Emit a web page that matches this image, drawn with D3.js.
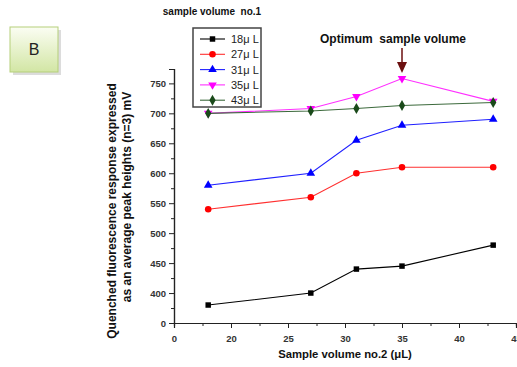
<!DOCTYPE html>
<html>
<head>
<meta charset="utf-8">
<script src="https://cdn.jsdelivr.net/npm/d3@7"></script>
<style>
  body { margin: 0; background: #fff; }
  text { font-family: "Liberation Sans", Arial, sans-serif; white-space: pre; }
</style>
</head>
<body>
<div id="chart"></div>
<script>
// sample volume no.2 (µL) on the x axis
const volumes = [18, 27, 31, 35, 43];
// one series per sample volume no.1
const seriesNames = ["18μ L", "27μ L", "31μ L", "35μ L", "43μ L"];
const s18 = [380, 400, 440, 445, 480];
const s27 = [540, 560, 600, 610, 610];
const s31 = [580, 600, 655, 680, 690];
const s35 = [700, 708, 728, 758, 720];
const s43 = [700, 704, 708, 713, 718];
const xTicks = [15, 20, 25, 30, 35, 40, 45];
const yTicks = [350, 400, 450, 500, 550, 600, 650, 700, 750];

const colors = ["#000000", "#ff0000", "#0000ff", "#ff00ff", "#1a4a1a"];
const lineColors = ["#000000", "#ff3030", "#2020ff", "#ff30ff", "#3c6a3c"];
const symbols = [d3.symbolSquare, d3.symbolCircle, d3.symbolTriangle, d3.symbolTriangle, d3.symbolDiamond];
const symSize = [30, 34, 32, 32, 34];
const symRotate = [0, 0, 0, 180, 0];

const series = [s18, s27, s31, s35, s43].map((vals, i) => ({
  name: seriesNames[i],
  values: vals.map((v, j) => ({x: volumes[j], y: v}))
}));

const W = 517, H = 367;
const svg = d3.select('#chart').append('svg')
  .attr('width', W).attr('height', H);

const x = d3.scaleLinear().domain([15, 45]).range([174, 516]);
const y = d3.scaleLinear().domain([350, 774]).range([323, 69]);

// "B" panel badge
const grad = svg.append('defs').append('linearGradient')
  .attr('id', 'bgrad').attr('x1', 0).attr('y1', 0).attr('x2', 0).attr('y2', 1);
grad.append('stop').attr('offset', '0%').attr('stop-color', '#fbfdf3');
grad.append('stop').attr('offset', '100%').attr('stop-color', '#d2e6a4');
svg.append('rect').attr('x', 13).attr('y', 30).attr('width', 48).attr('height', 45)
  .attr('fill', '#dcdcdc');
svg.append('rect').attr('x', 10).attr('y', 27).attr('width', 48).attr('height', 45)
  .attr('fill', 'url(#bgrad)').attr('stroke', '#b5cf7a').attr('stroke-width', 1);
svg.append('text').attr('x', 34).attr('y', 55).attr('text-anchor', 'middle')
  .style('font-size', '16px').attr('fill', '#222').text('B');

// titles
svg.append('text').attr('x', 212).attr('y', 15).attr('text-anchor', 'middle')
  .style('font-size', '10px').style('font-weight', 'bold').attr('fill', '#111')
  .text('sample volume  no.1');
svg.append('text').attr('x', 393).attr('y', 43).attr('text-anchor', 'middle')
  .style('font-size', '12px').style('font-weight', 'bold').attr('fill', '#111')
  .text('Optimum  sample volume');

// arrow to the optimum
svg.append('line').attr('x1', x(35)).attr('x2', x(35)).attr('y1', 48).attr('y2', 64)
  .attr('stroke', '#6b0f0f').attr('stroke-width', 1.5);
svg.append('path')
  .attr('d', `M${x(35) - 5},62 L${x(35) + 5},62 L${x(35)},73 Z`)
  .attr('fill', '#6b0f0f');

// axes
const fmt = d => (d === 15 || d === 350) ? '0' : d;
const xAxis = svg.append('g').attr('transform', `translate(0,${y(350)})`)
  .call(d3.axisBottom(x).tickValues(xTicks).tickSize(5).tickFormat(fmt));
const xMinor = svg.append('g').attr('transform', `translate(0,${y(350)})`)
  .call(d3.axisBottom(x).tickValues(d3.range(17.5, 45, 5)).tickSize(3).tickFormat(''));
const yAxis = svg.append('g').attr('transform', `translate(${x(15)},0)`)
  .call(d3.axisLeft(y).tickValues(yTicks).tickSize(5).tickFormat(fmt));
const yMinor = svg.append('g').attr('transform', `translate(${x(15)},0)`)
  .call(d3.axisLeft(y).tickValues(d3.range(375, 774, 50)).tickSize(3).tickFormat(''));

[xAxis, yAxis, xMinor, yMinor].forEach(g => {
  g.select('.domain').attr('stroke', '#222').attr('stroke-width', 1.2);
  g.selectAll('.tick line').attr('stroke', '#222');
});
[xAxis, yAxis].forEach(g => g.selectAll('text')
  .style('font-size', '9.5px').style('font-weight', 'bold').attr('fill', '#333'));
xAxis.selectAll('text').attr('dy', '1.2em');

// axis titles
svg.append('text').attr('x', 345).attr('y', 358).attr('text-anchor', 'middle')
  .style('font-size', '11.3px').style('font-weight', 'bold').attr('fill', '#111')
  .text('Sample volume no.2 (μL)');
const yl = svg.append('text').attr('transform', 'rotate(-90)')
  .attr('text-anchor', 'middle')
  .style('font-size', '12px').style('font-weight', 'bold').attr('fill', '#111');
yl.append('tspan').attr('x', -211).attr('y', 116).text('Quenched fluorescence response expressed');
yl.append('tspan').attr('x', -197).attr('y', 131).text('as an average peak heights (n=3) mV');

// lines
const line = d3.line().x(d => x(d.x)).y(d => y(d.y));
const plot = svg.append('g');
series.forEach((s, i) => {
  plot.append('path').datum(s.values)
    .attr('fill', 'none').attr('stroke', lineColors[i]).attr('stroke-width', 1.1)
    .attr('d', line);
});
series.forEach((s, i) => {
  plot.selectAll(null).data(s.values).enter().append('path')
    .attr('transform', d => `translate(${x(d.x)},${y(d.y)}) rotate(${symRotate[i]})`)
    .attr('d', d3.symbol().type(symbols[i]).size(symSize[i]))
    .attr('fill', colors[i]);
});

// legend
const lg = svg.append('g');
lg.append('rect').attr('x', 193).attr('y', 28).attr('width', 68).attr('height', 79)
  .attr('fill', '#fff').attr('stroke', '#444').attr('stroke-width', 1.5);
seriesNames.forEach((n, i) => {
  const yy = 39 + i * 15.3;
  lg.append('line').attr('x1', 200).attr('x2', 225).attr('y1', yy).attr('y2', yy)
    .attr('stroke', lineColors[i]).attr('stroke-width', 1.1);
  lg.append('path')
    .attr('transform', `translate(212.5,${yy}) rotate(${symRotate[i]})`)
    .attr('d', d3.symbol().type(symbols[i]).size(symSize[i]))
    .attr('fill', colors[i]);
  lg.append('text').attr('x', 231).attr('y', yy + 4)
    .style('font-size', '11px').attr('fill', '#222').text(n);
});
</script>
</body>
</html>
